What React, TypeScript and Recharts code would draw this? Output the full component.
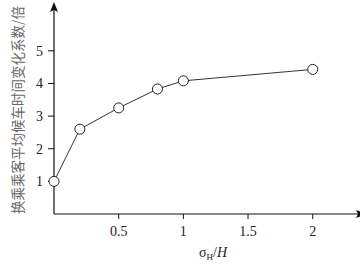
import { CartesianGrid, Line, LineChart, XAxis, YAxis } from 'recharts';

// 换乘乘客平均候车时间变化系数 vs σH/H
const ratioX = [0, 0.2, 0.5, 0.8, 1.0, 2.0];
const waitFactor = [1.0, 2.6, 3.25, 3.83, 4.08, 4.43];
const xTicks = [0.5, 1, 1.5, 2];
const yTicks = [1, 2, 3, 4, 5];

const data = ratioX.map((x, i) => ({ x, y: waitFactor[i] }));

const serif = '"Liberation Serif", "DejaVu Serif", serif';

function YLabel() {
  return (
    <text
      x={17}
      y={110}
      transform="rotate(-90, 17, 110)"
      textAnchor="middle"
      dominantBaseline="central"
      fontFamily='"Noto Sans CJK SC", sans-serif'
      fontSize={13.5}
      fill="#666"
    >
      换乘乘客平均候车时间变化系数/倍
    </text>
  );
}

function XLabel() {
  return (
    <text x={213} y={257} textAnchor="middle" fontFamily={serif} fontSize={14} fill="#222">
      <tspan>σ</tspan>
      <tspan fontSize={9} dy={3}>H</tspan>
      <tspan dy={-3}>/</tspan>
      <tspan fontStyle="italic">H</tspan>
    </text>
  );
}

export default function App() {
  return (
    <div
      style={{
        position: 'absolute',
        left: 0,
        top: 0,
        width: 360,
        height: 268,
        background: '#fff',
        fontFamily: serif,
      }}
    >
      <svg width={0} height={0} style={{ position: 'absolute' }}>
        <defs>
          <marker
            id="axis-arrow"
            viewBox="0 0 10 8"
            refX={2}
            refY={4}
            markerWidth={10}
            markerHeight={8}
            markerUnits="userSpaceOnUse"
            orient="auto-start-reverse"
          >
            <path d="M0,0 L10,4 L0,8 L2,4 Z" fill="#111" />
          </marker>
        </defs>
      </svg>
      <LineChart
        width={360}
        height={268}
        data={data}
        margin={{ top: 10, right: 2, bottom: 0, left: 10 }}
        style={{ fontFamily: serif }}
      >
        <CartesianGrid stroke="none" />
        <XAxis
          dataKey="x"
          type="number"
          domain={[0, 2.35]}
          ticks={xTicks}
          height={54}
          tickSize={5}
          tickMargin={7}
          tick={{ fontFamily: serif, fontSize: 14, fill: '#222' }}
          tickLine={{ stroke: '#111' }}
          axisLine={{ stroke: '#111', strokeWidth: 1.2, markerEnd: 'url(#axis-arrow)' }}
          label={<XLabel />}
        />
        <YAxis
          dataKey="y"
          type="number"
          domain={[0, 6.25]}
          ticks={yTicks}
          width={44}
          tickSize={6}
          tickMargin={5}
          tick={{ fontFamily: serif, fontSize: 14, fill: '#222' }}
          tickLine={{ stroke: '#111' }}
          axisLine={{ stroke: '#111', strokeWidth: 1.2, markerStart: 'url(#axis-arrow)' }}
          label={<YLabel />}
        />
        <Line
          dataKey="y"
          type="linear"
          stroke="#333"
          strokeWidth={1}
          dot={{ r: 5, fill: '#fff', stroke: '#222', strokeWidth: 1 }}
          activeDot={false}
          isAnimationActive={false}
        />
      </LineChart>
    </div>
  );
}
